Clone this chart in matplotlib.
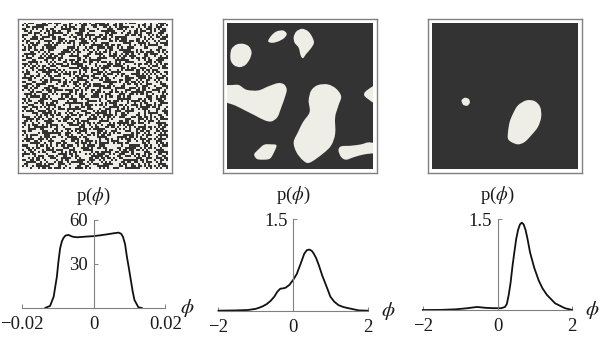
import matplotlib
matplotlib.use('Agg')
import matplotlib.pyplot as plt
import numpy as np
from matplotlib.colors import ListedColormap
from matplotlib.patches import PathPatch
from matplotlib.path import Path

# noise field of the first panel, one hex string per row
noise_rows = [
    'a3c91e74b05d28f6e1', '5e07b2d8c4193fa6d2', 'c81f6a39e72d05b4c7', '3ad4e0917bc62f58a9',
    '97b25cf18e03da46b1', 'e46a0dc37f91b258e3', '1db8f3620ca7e49d56', '78c25e9ab1340fd6c8',
    'b09e47d1a62c8f3571', '4f61ca38d7e5092bae', 'd27a94b06e1fc385d0', '68e13fb5c0927ad41c',
    'a5d07c2e9846b1f3e7', '2c98f14d6ba7035ec9', 'f36be0a7952dc1486a', '81d4c76f30e9a5b21d',
    '5ba92e0c7d6148f3b6', 'c7104fe6b83a9d25e0', '39e6da2581fc07b4c3', 'e0b5734c9a2d61f8a7',
    '16fa8d03b7c45e92d4', 'a94c61e2f50837bd19', '72d3be085a1f94c6e8', 'db0857f4c36ea1291f',
    '4ec12a96d8b07f354c', '8f73d0b5e1469c2ab6', 'b2691ec84f3da705d9', '05dcf7a3629be184c2',
    'e7a41b60dc8f2359ae', '39c5d28e7f0164abd7', 'c60fb394a1e7d258f1', '1a78e5cd204b9f63b8',
    '94e23fb67d0c18a5c6', '6bd1084ac9f5e3270d', 'f2397e5bd164ac08e9', '85c6a0d2e38f194b7a',
    'd04be971c2a653f8d1', '2f85c61a7dbe0394c5', 'a71e3d9f05c8b426e3', '5c94b8027ea1f6d3b0',
    'e3d076fa14b92c58a7', '18ab5ec93f60d7412e', 'b6f2c4071d8e95a3cd', '43097db8ea2c61f5d8',
    'f8c15a6e302d97b41c', '7ea49d12cb058f36e6', '0d36e8f7a54b1c92b3', 'c259b14f06d7e38ad0',
    '96e0d3a87c1f25b46f', '3b71fc6529ea048dc1', 'a8d42e09b6c351f7e4', '6c05b7f1d392ea84a9',
    'e19f38c4a07d5b26d3', '27c6ad50f8b1e349c8', 'bf4018e6c92a7d35b5', '50e3d97b2a4fc168e0',
    'd7a26c14f83e095bd6', '8315fb0e7d96a2c4a1', '4cb8e72a15d0f369c7', 'f06d93c8b41a27e5d2',
    '1e95a46d0c7fb832e8', 'ca72f1b8593e60d4b7', '65d08e3c1fa7492bc3', 'b34e6a97d20c85f1a0',
    '09f7c25ea86b1d34e6', '7d18b34fc09e62a5d9', 'ea5c60d7924b3f18c4', '326fa9e18d75c04bb2',
    'c1b74d035eaf9268d7', '9e28c6f1a3074db5e1', '5a03dbe6781f2c94a8', 'f74916c2bd58e03ad6',
]

# blob outlines, image pixels at 3x zoom
panel2_blobs = [
    [(160, 92), (170, 75), (185, 63), (205, 60), (216, 70), (208, 83), (190, 93), (172, 97)],
    [(237, 80), (245, 63), (262, 55), (280, 62), (292, 78), (298, 97), (288, 115), (275, 130),
     (265, 143), (258, 135), (252, 112), (240, 97)],
    [(46, 135), (50, 115), (65, 102), (85, 100), (102, 108), (110, 125), (105, 145), (92, 163),
     (75, 170), (58, 165), (48, 152)],
    [(20, 228), (50, 224), (72, 224), (95, 238), (130, 240), (160, 228), (190, 218), (208, 222),
     (216, 238), (210, 262), (200, 290), (188, 320), (170, 333), (150, 330), (120, 315), (90, 300),
     (60, 285), (20, 268)],
    [(290, 240), (310, 224), (340, 222), (365, 235), (380, 258), (372, 285), (362, 320), (362, 370),
     (350, 405), (325, 430), (285, 457), (265, 450), (245, 425), (237, 395), (250, 365), (265, 335),
     (285, 305), (282, 270)],
    [(495, 222), (460, 238), (449, 252), (460, 265), (495, 283)],
    [(118, 432), (130, 418), (148, 403), (170, 402), (185, 405), (178, 425), (165, 445), (140, 448),
     (125, 445)],
    [(372, 420), (380, 408), (410, 406), (440, 402), (465, 396), (495, 405), (495, 425), (450, 432),
     (420, 440), (395, 448), (380, 440)],
]
panel3_blobs = [
    [(125, 270), (135, 262), (147, 266), (150, 277), (142, 286), (130, 283)],
    [(265, 365), (270, 335), (280, 310), (295, 285), (320, 270), (345, 272), (362, 290), (365, 320),
     (355, 350), (335, 375), (315, 395), (295, 402), (275, 395), (265, 385)],
]

# density curves
phi1 = [-0.0135, -0.0121, -0.0111, -0.0102, -0.0098, -0.0093, -0.0088, -0.00835, -0.0078, -0.0070,
        -0.0058, -0.0046, -0.0025, 0.0, 0.0020, 0.0037, 0.0055, 0.0070, 0.0077, 0.0082, 0.0088,
        0.0093, 0.0099, 0.0104, 0.0109, 0.0114, 0.0125, 0.0135]
p1 = [0.0, 1.4, 7.7, 21.4, 31.0, 40.7, 45.5, 47.8, 49.4, 49.8, 48.6, 48.2, 48.6, 49.0, 49.6, 50.2,
      50.9, 51.4, 50.6, 48.6, 43.5, 35.0, 26.5, 19.0, 11.5, 5.5, 0.5, 0.0]
phi2 = [-2.0, -1.5, -1.2, -1.0, -0.9, -0.8, -0.7, -0.6, -0.5, -0.42, -0.34, -0.27, -0.2, -0.1, 0.0,
        0.1, 0.2, 0.3, 0.37, 0.44, 0.5, 0.55, 0.62, 0.7, 0.78, 0.85, 0.92, 1.0, 1.1, 1.22, 1.35,
        1.49, 1.76, 2.0]
p2 = [0.0, 0.005, 0.012, 0.03, 0.05, 0.075, 0.11, 0.16, 0.23, 0.31, 0.36, 0.365, 0.375, 0.42, 0.5,
      0.6, 0.76, 0.93, 0.99, 1.0, 0.98, 0.94, 0.86, 0.73, 0.58, 0.47, 0.36, 0.23, 0.15, 0.09, 0.06,
      0.04, 0.005, 0.0]
phi3 = [-2.0, -1.5, -1.1, -0.8, -0.55, -0.3, -0.1, 0.0, 0.1, 0.2, 0.25, 0.3, 0.35, 0.4, 0.45, 0.5,
        0.55, 0.6, 0.65, 0.7, 0.75, 0.8, 0.87, 0.98, 1.1, 1.2, 1.32, 1.54, 1.8, 2.0]
p3 = [0.0, 0.002, 0.012, 0.03, 0.05, 0.035, 0.03, 0.03, 0.03, 0.05, 0.1, 0.25, 0.45, 0.72, 0.95,
      1.17, 1.32, 1.41, 1.44, 1.41, 1.32, 1.18, 0.95, 0.7, 0.49, 0.36, 0.25, 0.11, 0.03, 0.0]

xticks1 = [-0.02, 0, 0.02]
xlabels1 = ['\u22120.02', '0', '0.02']
yticks1 = [30, 60]
ylabels1 = ['30', '60']
xticks2 = [-2, 0, 2]
xlabels2 = ['\u22122', '0', '2']
yticks2 = [1.5]
ylabels2 = ['1.5']

dark = '#333333'
light = '#eeeee6'
axis_col = '#808080'
text_col = '#1a1a1a'

plt.rcParams['font.family'] = 'Liberation Serif'
plt.rcParams['mathtext.fontset'] = 'stix'

W, H = 608, 337
fig = plt.figure(figsize=(W / 100, H / 100), dpi=100)


def px_axes(x0, y0, x1, y1):
    # pixel box with y from the top
    return fig.add_axes([x0 / W, 1 - y1 / H, (x1 - x0) / W, (y1 - y0) / H])


def blob_path(pts):
    # closed bezier outline that goes through the read points
    pts = np.array(pts, dtype=float)
    prev = np.roll(pts, 1, axis=0)
    nxt = np.roll(pts, -1, axis=0)
    nxt2 = np.roll(pts, -2, axis=0)
    verts = [pts[0]]
    codes = [Path.MOVETO]
    for a, b, c, d in zip(prev, pts, nxt, nxt2):
        verts += [b + (c - a) / 6, c - (d - b) / 6, c]
        codes += [Path.CURVE4] * 3
    return Path(verts, codes)


def frame(x0):
    ax = px_axes(x0, 19, x0 + 154, 173)
    ax.set_xticks([])
    ax.set_yticks([])
    for s in ax.spines.values():
        s.set_color(axis_col)
        s.set_linewidth(1.0)
    inner = px_axes(x0 + 4, 22.5, x0 + 150, 169)
    inner.set_xticks([])
    inner.set_yticks([])
    for s in inner.spines.values():
        s.set_visible(False)
    return inner


ax = frame(18)
bits = np.array([[int(c) for h in row for c in format(int(h, 16), '04b')] for row in noise_rows])
ax.imshow(bits, cmap=ListedColormap([dark, light]), interpolation='nearest', aspect='auto')

for x0, blobs in [(223, panel2_blobs), (428, panel3_blobs)]:
    ax = frame(x0)
    ax.set_facecolor(dark)
    ax.set_xlim(36, 476)
    ax.set_ylim(476, 36)
    for b in blobs:
        ax.add_patch(PathPatch(blob_path(b), facecolor=light, edgecolor='none'))


def density(box, xs, ys, xticks, xlabels, yticks, ylabels, xmax, ymax, phi_off):
    ax = px_axes(*box)
    ax.patch.set_visible(False)
    ax.set_xlim(-xmax, xmax)
    ax.set_ylim(0, ymax)
    for s in ['top', 'right']:
        ax.spines[s].set_visible(False)
    ax.spines['left'].set_position(('data', 0))
    for s in ['left', 'bottom']:
        ax.spines[s].set_color(axis_col)
        ax.spines[s].set_linewidth(0.8)
    ax.set_xticks(xticks)
    ax.set_xticklabels(xlabels)
    ax.set_yticks(yticks)
    ax.set_yticklabels(ylabels)
    ax.tick_params(axis='both', direction='in', length=3, width=0.7, color=axis_col,
                   labelsize=13.5, labelcolor=text_col)
    ax.tick_params(axis='x', pad=6)
    ax.tick_params(axis='y', pad=4)
    ax.plot(xs, ys, color='#111111', lw=1.3, clip_on=False, solid_capstyle='round')
    ax.annotate(r'p($\phi$)', xy=(0, 1), xycoords=ax.get_xaxis_transform(), xytext=(0, 17),
                textcoords='offset points', ha='center', va='center', fontsize=13.5, color=text_col)
    ax.text(1 + phi_off, 0.0, r'$\phi$', transform=ax.transAxes, ha='center', va='center',
            fontsize=15, color=text_col)
    return ax


density((21.7, 220, 165.3, 308), phi1, p1, xticks1, xlabels1, yticks1, ylabels1, 0.02, 60, 0.15)
density((218.3, 219, 367.7, 310.7), phi2, p2, xticks2, xlabels2, yticks2, ylabels2, 2, 1.5, 0.135)
density((422.7, 219, 572.3, 310), phi3, p3, xticks2, xlabels2, yticks2, ylabels2, 2, 1.5, 0.135)

fig.savefig('out.png', dpi=100)
